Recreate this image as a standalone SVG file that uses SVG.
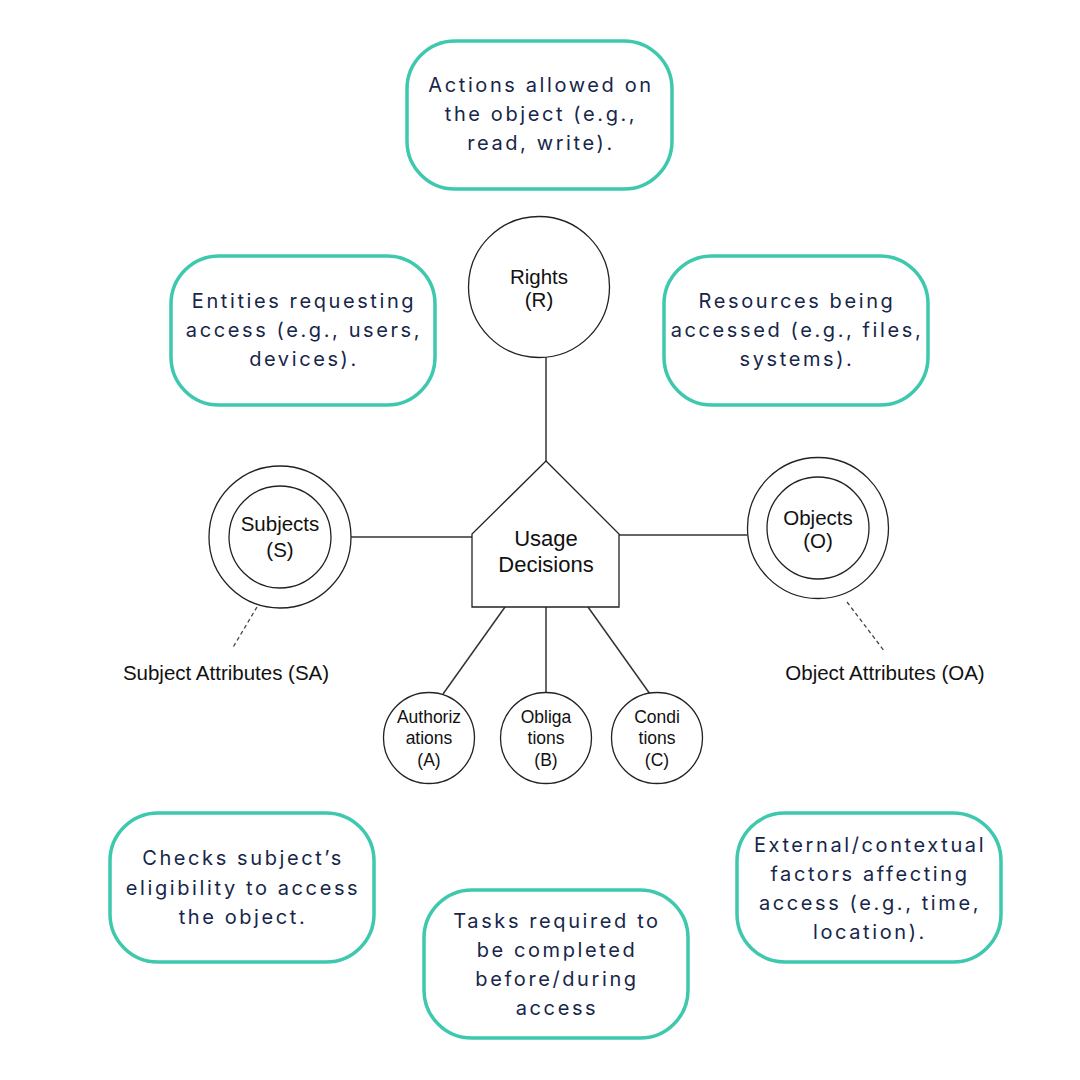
<svg xmlns="http://www.w3.org/2000/svg" width="1080" height="1080" viewBox="0 0 1080 1080">
<style>
.box{fill:#fff;stroke:#3ec8ae;stroke-width:3.5}
.bt{font-family:Inter,"Open Sans",sans-serif;font-size:20px;letter-spacing:2.6px;fill:#17264a;text-anchor:middle}
.sh{fill:#fff;stroke:#222;stroke-width:1.3}
.ln{stroke:#333;stroke-width:1.5;fill:none}
.dl{stroke:#444;stroke-width:1.3;stroke-dasharray:4 3;fill:none}
.t{font-family:"Liberation Sans",Arial,sans-serif;font-size:20.5px;fill:#111;text-anchor:middle}
.ts{font-family:"Liberation Sans",Arial,sans-serif;font-size:17.5px;fill:#111;text-anchor:middle}
.tu{font-family:"Liberation Sans",Arial,sans-serif;font-size:22px;fill:#111;text-anchor:middle}
</style>
<rect width="1080" height="1080" fill="#fff"/>
<g id="connectors">
<line class="ln" x1="546" y1="357" x2="546" y2="461"/>
<line class="ln" x1="351" y1="537" x2="472" y2="537"/>
<line class="ln" x1="619" y1="535" x2="747" y2="535"/>
<line class="ln" x1="505" y1="607" x2="443" y2="694"/>
<line class="ln" x1="546" y1="607" x2="546" y2="692"/>
<line class="ln" x1="588" y1="607" x2="650" y2="694"/>
<line class="dl" x1="257" y1="607" x2="232" y2="649"/>
<line class="dl" x1="847" y1="602" x2="885" y2="652"/>
</g>
<g id="note-rights">
<rect class="box" x="407" y="41" width="265" height="148" rx="48"/>
<text class="bt" x="541" y="92">Actions allowed on</text>
<text class="bt" x="541" y="121">the object (e.g.,</text>
<text class="bt" x="541" y="150">read, write).</text>
</g>
<g id="note-subjects">
<rect class="box" x="171" y="256" width="264" height="149" rx="48"/>
<text class="bt" x="304" y="308">Entities requesting</text>
<text class="bt" x="304" y="337">access (e.g., users,</text>
<text class="bt" x="304" y="366">devices).</text>
</g>
<g id="note-objects">
<rect class="box" x="664" y="256" width="264" height="149" rx="48"/>
<text class="bt" x="797" y="308">Resources being</text>
<text class="bt" x="797" y="337">accessed (e.g., files,</text>
<text class="bt" x="797" y="366">systems).</text>
</g>
<g id="note-authorizations">
<rect class="box" x="110" y="813" width="264" height="149" rx="48"/>
<text class="bt" x="243" y="865">Checks subject’s</text>
<text class="bt" x="243" y="895">eligibility to access</text>
<text class="bt" x="243" y="924">the object.</text>
</g>
<g id="note-obligations">
<rect class="box" x="424" y="890" width="264" height="148" rx="48"/>
<text class="bt" x="557" y="928">Tasks required to</text>
<text class="bt" x="557" y="957">be completed</text>
<text class="bt" x="557" y="986">before/during</text>
<text class="bt" x="557" y="1015">access</text>
</g>
<g id="note-conditions">
<rect class="box" x="737" y="813" width="264" height="149" rx="48"/>
<text class="bt" x="870" y="852">External/contextual</text>
<text class="bt" x="870" y="881">factors affecting</text>
<text class="bt" x="870" y="910">access (e.g., time,</text>
<text class="bt" x="870" y="939">location).</text>
</g>
<g id="rights">
<circle class="sh" cx="539" cy="287" r="70.5"/>
<text class="t" x="539" y="284">Rights</text>
<text class="t" x="539" y="307">(R)</text>
</g>
<g id="usage-decisions">
<polygon class="sh" points="546,461 472,534 472,607 619,607 619,534"/>
<text class="tu" x="546" y="546">Usage</text>
<text class="tu" x="546" y="572">Decisions</text>
</g>
<g id="subjects">
<circle class="sh" cx="280" cy="537" r="71"/>
<circle class="sh" cx="280" cy="537" r="51"/>
<text class="t" x="280" y="531">Subjects</text>
<text class="t" x="280" y="557">(S)</text>
</g>
<g id="objects">
<circle class="sh" cx="818" cy="528" r="70.5"/>
<circle class="sh" cx="818" cy="528" r="51"/>
<text class="t" x="818" y="525">Objects</text>
<text class="t" x="818" y="548">(O)</text>
</g>
<text class="t" x="226" y="680">Subject Attributes (SA)</text>
<text class="t" x="885" y="680">Object Attributes (OA)</text>
<g id="authorizations">
<circle class="sh" cx="429" cy="738" r="45.5"/>
<text class="ts" x="429" y="723">Authoriz</text>
<text class="ts" x="429" y="744">ations</text>
<text class="ts" x="429" y="766">(A)</text>
</g>
<g id="obligations">
<circle class="sh" cx="546" cy="738" r="45.5"/>
<text class="ts" x="546" y="723">Obliga</text>
<text class="ts" x="546" y="744">tions</text>
<text class="ts" x="546" y="766">(B)</text>
</g>
<g id="conditions">
<circle class="sh" cx="657" cy="738" r="45.5"/>
<text class="ts" x="657" y="723">Condi</text>
<text class="ts" x="657" y="744">tions</text>
<text class="ts" x="657" y="766">(C)</text>
</g>
</svg>
